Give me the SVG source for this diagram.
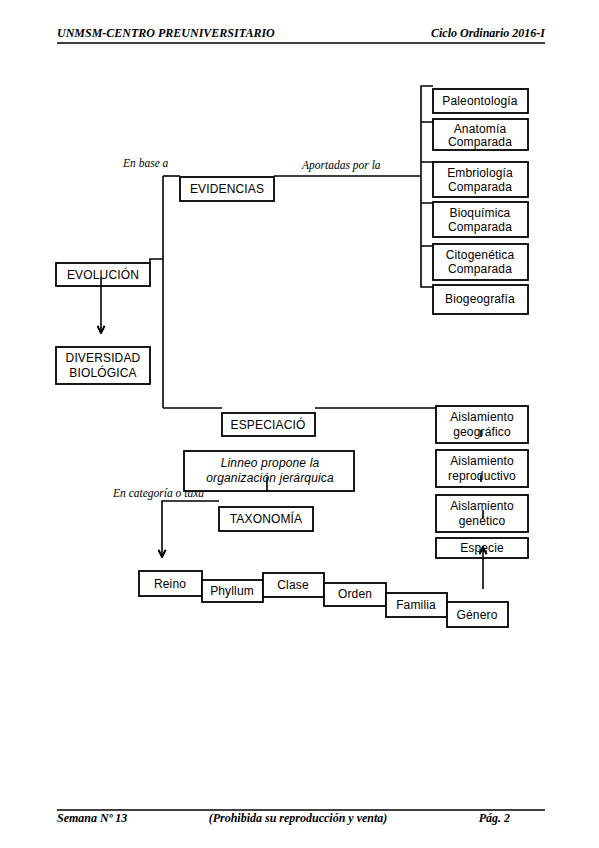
<svg xmlns="http://www.w3.org/2000/svg" width="599" height="848" viewBox="0 0 599 848">
<style>
.hdr{font-family:"Liberation Serif","Times New Roman",serif;font-style:italic;font-weight:bold;font-size:12px;fill:#000}
.box{fill:#fff;stroke:#000;stroke-width:1.8}
.lbl{font-family:"Liberation Sans",Arial,sans-serif;font-size:12px;letter-spacing:0.15px;fill:#000;text-anchor:middle}
.it{font-style:italic}
.ser{font-family:"Liberation Serif","Times New Roman",serif;font-style:italic;font-size:11.5px;fill:#000}
.ln{fill:none;stroke:#000;stroke-width:1.6}
.rule{stroke:#000;stroke-width:1.6}
</style>
<defs>
<marker id="arr" viewBox="0 0 10 10" refX="9" refY="5" markerWidth="9" markerHeight="9" markerUnits="userSpaceOnUse" orient="auto">
<path d="M1,1 L9,5 L1,9" fill="none" stroke="#000" stroke-width="2.2"/>
</marker>
</defs>
<rect width="599" height="848" fill="#fff"/>
<g id="header">
<text class="hdr" x="57" y="37">UNMSM-CENTRO PREUNIVERSITARIO</text>
<text class="hdr" x="545" y="37" text-anchor="end">Ciclo Ordinario 2016-I</text>
<line class="rule" x1="57" y1="43" x2="545" y2="43"/>
</g>
<g id="footer">
<line class="rule" x1="57" y1="810" x2="545" y2="810"/>
<text class="hdr" x="57" y="822">Semana Nº 13</text>
<text class="hdr" x="298" y="822" text-anchor="middle">(Prohibida su reproducción y venta)</text>
<text class="hdr" x="510" y="822" text-anchor="end">Pág. 2</text>
</g>
<g id="labels">
<text class="ser" x="123" y="167">En base a</text>
<text class="ser" x="302" y="169">Aportadas por la</text>
<text class="ser" x="113" y="497">En categoría o taxa</text>
</g>
<g id="connectors">
<path class="ln" d="M163,176 V408"/>
<path class="ln" d="M163,176 H180"/>
<path class="ln" d="M274,176 H421"/>
<path class="ln" d="M150,263 V259 H163"/>
<path class="ln" d="M433,86 H421 V287 H433"/>
<path class="ln" d="M421,122 H433 M421,162 H433 M421,203 H433 M421,246 H433"/>
<path class="ln" d="M163,408 H222"/>
<path class="ln" d="M315,408 H436"/>
<path class="ln" d="M219,501 H162 V557" marker-end="url(#arr)"/>
</g>
<g id="evidencias"><rect class="box" x="180" y="177" width="94" height="24"/><text class="lbl" x="227" y="193">EVIDENCIAS</text></g>
<g id="evolucion"><rect class="box" x="56" y="263" width="94" height="23"/><text class="lbl" x="103" y="279">EVOLUCIÓN</text></g>
<g id="diversidad"><rect class="box" x="56" y="347" width="94" height="37"/><text class="lbl" x="103" y="362">DIVERSIDAD</text><text class="lbl" x="103" y="377">BIOLÓGICA</text></g>
<g id="paleontologia"><rect class="box" x="433" y="89" width="95" height="24"/><text class="lbl" x="480" y="105">Paleontología</text></g>
<g id="anatomia"><rect class="box" x="433" y="119" width="95" height="31"/><text class="lbl" x="480" y="133">Anatomía</text><text class="lbl" x="480" y="146">Comparada</text></g>
<g id="embriologia"><rect class="box" x="433" y="162" width="95" height="35"/><text class="lbl" x="480" y="177">Embriología</text><text class="lbl" x="480" y="191">Comparada</text></g>
<g id="bioquimica"><rect class="box" x="433" y="202" width="95" height="35"/><text class="lbl" x="480" y="217">Bioquímica</text><text class="lbl" x="480" y="231">Comparada</text></g>
<g id="citogenetica"><rect class="box" x="433" y="244" width="95" height="36"/><text class="lbl" x="480" y="259">Citogenética</text><text class="lbl" x="480" y="273">Comparada</text></g>
<g id="biogeografia"><rect class="box" x="433" y="285" width="95" height="29"/><text class="lbl" x="480" y="303">Biogeografía</text></g>
<g id="especiacion"><rect class="box" x="222" y="413" width="93" height="23"/><text class="lbl" x="268" y="429">ESPECIACIÓ</text></g>
<g id="aislamiento-geografico"><rect class="box" x="436" y="406" width="92" height="37"/><text class="lbl" x="482" y="421">Aislamiento</text><text class="lbl" x="482" y="436">geográfico</text></g>
<g id="aislamiento-reproductivo"><rect class="box" x="436" y="450" width="92" height="37"/><text class="lbl" x="482" y="465">Aislamiento</text><text class="lbl" x="482" y="480">reproductivo</text></g>
<g id="aislamiento-genetico"><rect class="box" x="436" y="495" width="92" height="37"/><text class="lbl" x="482" y="510">Aislamiento</text><text class="lbl" x="482" y="525">genético</text></g>
<g id="especie"><rect class="box" x="436" y="538" width="92" height="20"/><text class="lbl" x="482" y="552">Especie</text></g>
<g id="linneo"><rect class="box" x="184" y="451" width="170" height="40"/><text class="lbl it" x="270" y="467">Linneo propone la</text><text class="lbl it" x="270" y="482">organización jerárquica</text></g>
<g id="taxonomia"><rect class="box" x="219" y="507" width="94" height="24"/><text class="lbl" x="266" y="523">TAXONOMÍA</text></g>
<g id="reino"><rect class="box" x="139" y="571" width="63" height="25"/><text class="lbl" x="170" y="588">Reino</text></g>
<g id="phyllum"><rect class="box" x="202" y="580" width="61" height="22"/><text class="lbl" x="232" y="595">Phyllum</text></g>
<g id="clase"><rect class="box" x="263" y="573" width="61" height="24"/><text class="lbl" x="293" y="589">Clase</text></g>
<g id="orden"><rect class="box" x="324" y="583" width="62" height="23"/><text class="lbl" x="355" y="598">Orden</text></g>
<g id="familia"><rect class="box" x="386" y="593" width="61" height="24"/><text class="lbl" x="416" y="609">Familia</text></g>
<g id="genero"><rect class="box" x="447" y="602" width="61" height="25"/><text class="lbl" x="477" y="619">Género</text></g>
<g id="connectors-top">
<path class="ln" d="M101,277 V333" marker-end="url(#arr)"/>
<path class="ln" d="M483,589 V547" marker-end="url(#arr)"/>
<path class="ln" d="M267,477 V492"/>
<path class="ln" d="M481,430 V437 M481,475 V482 M483,510 V518"/>
</g>
</svg>
